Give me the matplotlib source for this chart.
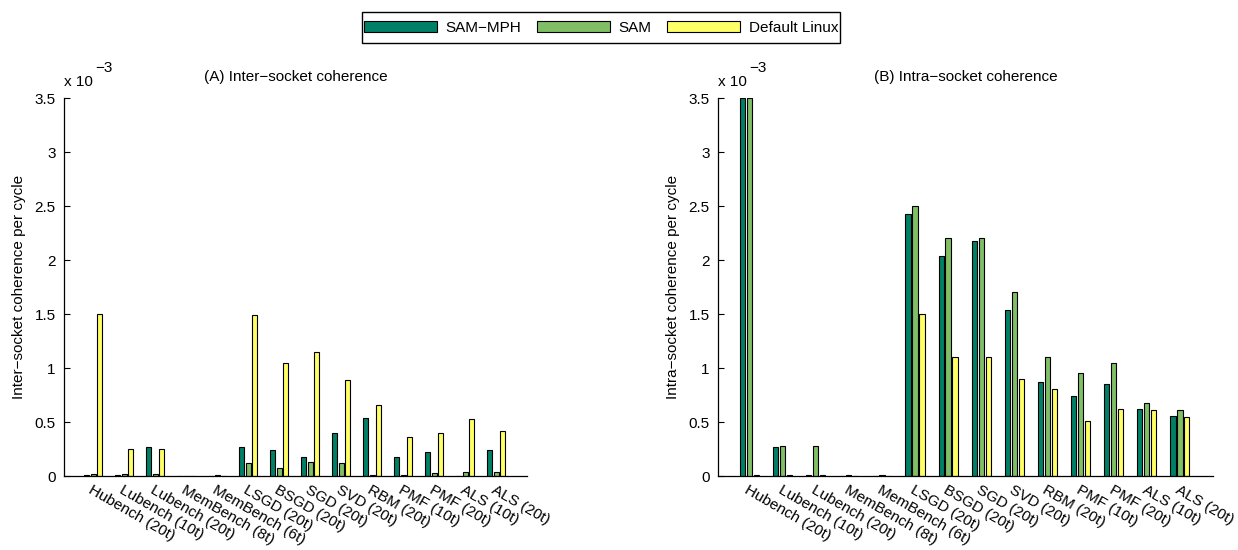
import matplotlib
matplotlib.use("Agg")
import matplotlib.pyplot as plt
from matplotlib.patches import Rectangle
from matplotlib.transforms import ScaledTranslation
import numpy as np

plt.rcParams['font.family'] = ['Liberation Sans', 'DejaVu Sans']

categories = ["Hubench (20t)", "Lubench (10t)", "Lubench (20t)", "MemBench (8t)",
              "MemBench (6t)", "LSGD (20t)", "BSGD (20t)", "SGD (20t)", "SVD (20t)",
              "RBM (20t)", "PMF (10t)", "PMF (20t)", "ALS (10t)", "ALS (20t)"]
series_names = ["SAM−MPH", "SAM", "Default Linux"]

# Inter-socket coherence per cycle (x 10^-3)
inter_mph     = [0.010, 0.010, 0.270, 0.004, 0.003, 0.266, 0.240, 0.176, 0.396, 0.538, 0.173, 0.223, 0.003, 0.238]
inter_sam     = [0.020, 0.020, 0.020, 0.004, 0.012, 0.124, 0.078, 0.133, 0.118, 0.012, 0.012, 0.025, 0.040, 0.040]
inter_default = [1.500, 0.250, 0.250, 0.004, 0.003, 1.488, 1.050, 1.150, 0.888, 0.656, 0.365, 0.400, 0.530, 0.418]

# Intra-socket coherence per cycle (x 10^-3)
intra_mph     = [3.500, 0.271, 0.012, 0.003, 0.003, 2.425, 2.033, 2.172, 1.534, 0.866, 0.742, 0.850, 0.622, 0.551]
intra_sam     = [3.500, 0.280, 0.280, 0.010, 0.010, 2.500, 2.200, 2.200, 1.704, 1.100, 0.952, 1.050, 0.672, 0.610]
intra_default = [0.005, 0.012, 0.012, 0.003, 0.003, 1.503, 1.100, 1.100, 0.900, 0.810, 0.511, 0.622, 0.610, 0.542]

yticks = [0, 0.5, 1, 1.5, 2, 2.5, 3, 3.5]
ytick_labels = ["0", "0.5", "1", "1.5", "2", "2.5", "3", "3.5"]

colors = ["#008066", "#80BF66", "#FFFF66"]

W, H = 1238, 550
fig = plt.figure(figsize=(W / 100, H / 100), dpi=100)

FS = 11

def panel(rect, data, title, ylabel):
    ax = fig.add_axes(rect)
    x = np.arange(1, len(categories) + 1)
    bw = 0.16
    pitch = 0.21
    bars = []
    for i, (vals, c) in enumerate(zip(data, colors)):
        b = ax.bar(x + (i - 1) * pitch, vals, width=bw, color=c,
                   edgecolor="black", linewidth=0.8, label=series_names[i])
        bars.append(b)
    ax.set_xlim(0.05, 15.0)
    ax.set_ylim(0, 3.5)
    ax.set_yticks(yticks)
    ax.set_yticklabels(ytick_labels, fontsize=FS)
    ax.set_xticks(x)
    ax.set_xticklabels(categories, rotation=-30, ha="left", va="top",
                       rotation_mode="anchor", fontsize=FS)
    ax.tick_params(axis="x", length=0, pad=5)
    ax.tick_params(axis="y", direction="in", length=4, width=0.8, pad=6)
    for s in ["top", "right"]:
        ax.spines[s].set_visible(False)
    for s in ["left", "bottom"]:
        ax.spines[s].set_linewidth(0.9)
    ax.set_title(title, fontsize=FS, pad=12)
    ax.set_ylabel(ylabel, fontsize=FS, labelpad=6)
    # offset text "x 10^-3"
    t1 = ax.text(0.0, 1.0, "x 10", fontsize=FS, ha="left", va="baseline")
    t1.set_transform(ax.transAxes + ScaledTranslation(0, 12 / 100, fig.dpi_scale_trans))
    t2 = ax.text(0.0, 1.0, "−3", fontsize=FS, ha="left", va="baseline")
    t2.set_transform(ax.transAxes + ScaledTranslation(31 / 100, 26 / 100, fig.dpi_scale_trans))
    return ax, bars

axL, bars = panel([64 / W, 1 - 476 / H, (527 - 64) / W, (476 - 98) / H],
                  [inter_mph, inter_sam, inter_default],
                  "(A) Inter−socket coherence", "Inter−socket coherence per cycle")
axR, _ = panel([718 / W, 1 - 476 / H, (1213 - 718) / W, (476 - 98) / H],
               [intra_mph, intra_sam, intra_default],
               "(B) Intra−socket coherence", "Intra−socket coherence per cycle")

# legend frame drawn as a figure rectangle, legend content centered inside
bx0, bx1, by0, by1 = 362, 840, 12, 43
fig.patches.append(Rectangle((bx0 / W, 1 - by1 / H), (bx1 - bx0) / W, (by1 - by0) / H,
                             transform=fig.transFigure, facecolor="white",
                             edgecolor="black", linewidth=1.0, zorder=1))
leg = fig.legend(handles=bars, labels=series_names, loc="center",
                 bbox_to_anchor=((bx0 + bx1) / 2 / W, 1 - (by0 + by1) / 2 / H),
                 ncol=3, frameon=False, fontsize=FS,
                 handlelength=4.8, handleheight=0.75, columnspacing=1.0,
                 borderpad=0.2, handletextpad=0.55)
leg.set_zorder(5)

fig.savefig("out.png", dpi=100)
